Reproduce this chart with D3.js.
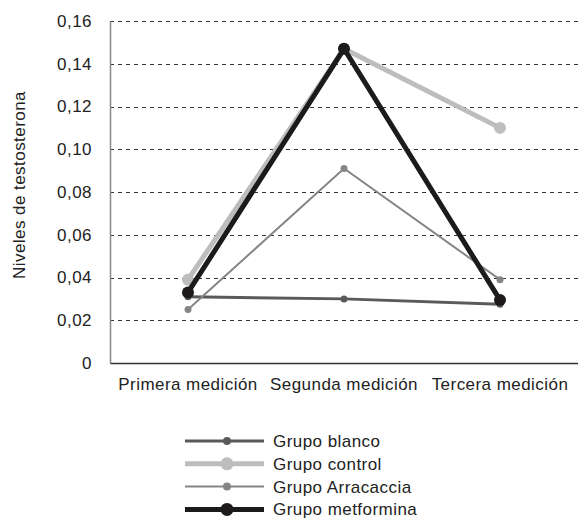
<!DOCTYPE html>
<html>
<head>
<meta charset="utf-8">
<script src="https://cdn.jsdelivr.net/npm/d3@7"></script>
<style>
  body { margin: 0; background: #fff; }
  text { font-family: "Liberation Sans", Arial, sans-serif; fill: #222; }
</style>
</head>
<body>
<div class="canvas"></div>
<script>
// data
const categories = ["Primera medición", "Segunda medición", "Tercera medición"];
const yTicks = [0, 0.02, 0.04, 0.06, 0.08, 0.10, 0.12, 0.14, 0.16];
const seriesNames = ["Grupo blanco", "Grupo control", "Grupo Arracaccia", "Grupo metformina"];
const blanco = [0.031, 0.030, 0.0275];
const control = [0.039, 0.147, 0.110];
const arracaccia = [0.025, 0.091, 0.039];
const metformina = [0.033, 0.147, 0.0295];

const styles = [
  { color: "#5a5a5a", width: 3, r: 3.5 },
  { color: "#bdbdbd", width: 5, r: 6 },
  { color: "#858585", width: 2, r: 3.5 },
  { color: "#1c1a1a", width: 5, r: 6 }
];
const seriesValues = [blanco, control, arracaccia, metformina];

const svg = d3.select(".canvas").append("svg").attr("width", 578).attr("height", 518);

const plot = { left: 110, right: 578, top: 21, bottom: 363 };
const fontSize = "17px";
const spacing = "0.45px";

const x = d3.scaleBand().domain(categories).range([plot.left, plot.right]);
const y = d3.scaleLinear().domain([0, 0.16]).range([plot.bottom, plot.top]);
const fmt = v => v === 0 ? "0" : d3.format(".2f")(v).replace(".", ",");

// gridlines
svg.append("g")
  .selectAll("line")
  .data(yTicks.filter(d => d > 0))
  .join("line")
  .attr("x1", plot.left)
  .attr("x2", plot.right)
  .attr("y1", d => Math.round(y(d)) + 0.5)
  .attr("y2", d => Math.round(y(d)) + 0.5)
  .attr("stroke", "#333")
  .attr("stroke-width", 1)
  .attr("stroke-dasharray", "4,4");

// y axis
const yAxis = svg.append("g")
  .attr("transform", `translate(${plot.left},0)`)
  .call(d3.axisLeft(y).tickValues(yTicks).tickFormat(fmt).tickSize(0).tickPadding(18));
yAxis.select(".domain").attr("stroke", "#888").attr("stroke-width", 1.5);
yAxis.selectAll("text").attr("font-size", fontSize).attr("letter-spacing", spacing)
  .attr("fill", "#222").attr("font-family", "Liberation Sans, Arial, sans-serif");

// x axis
const xAxis = svg.append("g")
  .attr("transform", `translate(0,${plot.bottom})`)
  .call(d3.axisBottom(x).tickSize(0).tickPadding(15));
xAxis.select(".domain").attr("stroke", "#333").attr("stroke-width", 1.5);
xAxis.selectAll("text").attr("font-size", fontSize).attr("letter-spacing", spacing)
  .attr("fill", "#222").attr("font-family", "Liberation Sans, Arial, sans-serif");

// y label
svg.append("text")
  .attr("transform", "translate(25,185) rotate(-90)")
  .attr("text-anchor", "middle")
  .attr("font-size", fontSize)
  .attr("letter-spacing", spacing)
  .text("Niveles de testosterona");

// lines
const line = d3.line()
  .x((d, i) => x(categories[i]) + x.bandwidth() / 2)
  .y(d => y(d));

seriesValues.forEach((vals, s) => {
  const g = svg.append("g");
  g.append("path")
    .attr("d", line(vals))
    .attr("fill", "none")
    .attr("stroke", styles[s].color)
    .attr("stroke-width", styles[s].width);
  g.selectAll("circle")
    .data(vals)
    .join("circle")
    .attr("cx", (d, i) => x(categories[i]) + x.bandwidth() / 2)
    .attr("cy", d => y(d))
    .attr("r", styles[s].r)
    .attr("fill", styles[s].color);
});

// legend
const legend = svg.append("g").attr("transform", "translate(185,441)");
seriesNames.forEach((name, s) => {
  const row = legend.append("g").attr("transform", `translate(0,${s * 22.8})`);
  row.append("line")
    .attr("x1", 0).attr("x2", 79).attr("y1", 0).attr("y2", 0)
    .attr("stroke", styles[s].color)
    .attr("stroke-width", styles[s].width);
  row.append("circle")
    .attr("cx", 42).attr("cy", 0).attr("r", styles[s].r + 0.5)
    .attr("fill", styles[s].color);
  row.append("text")
    .attr("x", 88).attr("y", 6)
    .attr("font-size", fontSize)
    .attr("letter-spacing", spacing)
    .text(name);
});
</script>
</body>
</html>
